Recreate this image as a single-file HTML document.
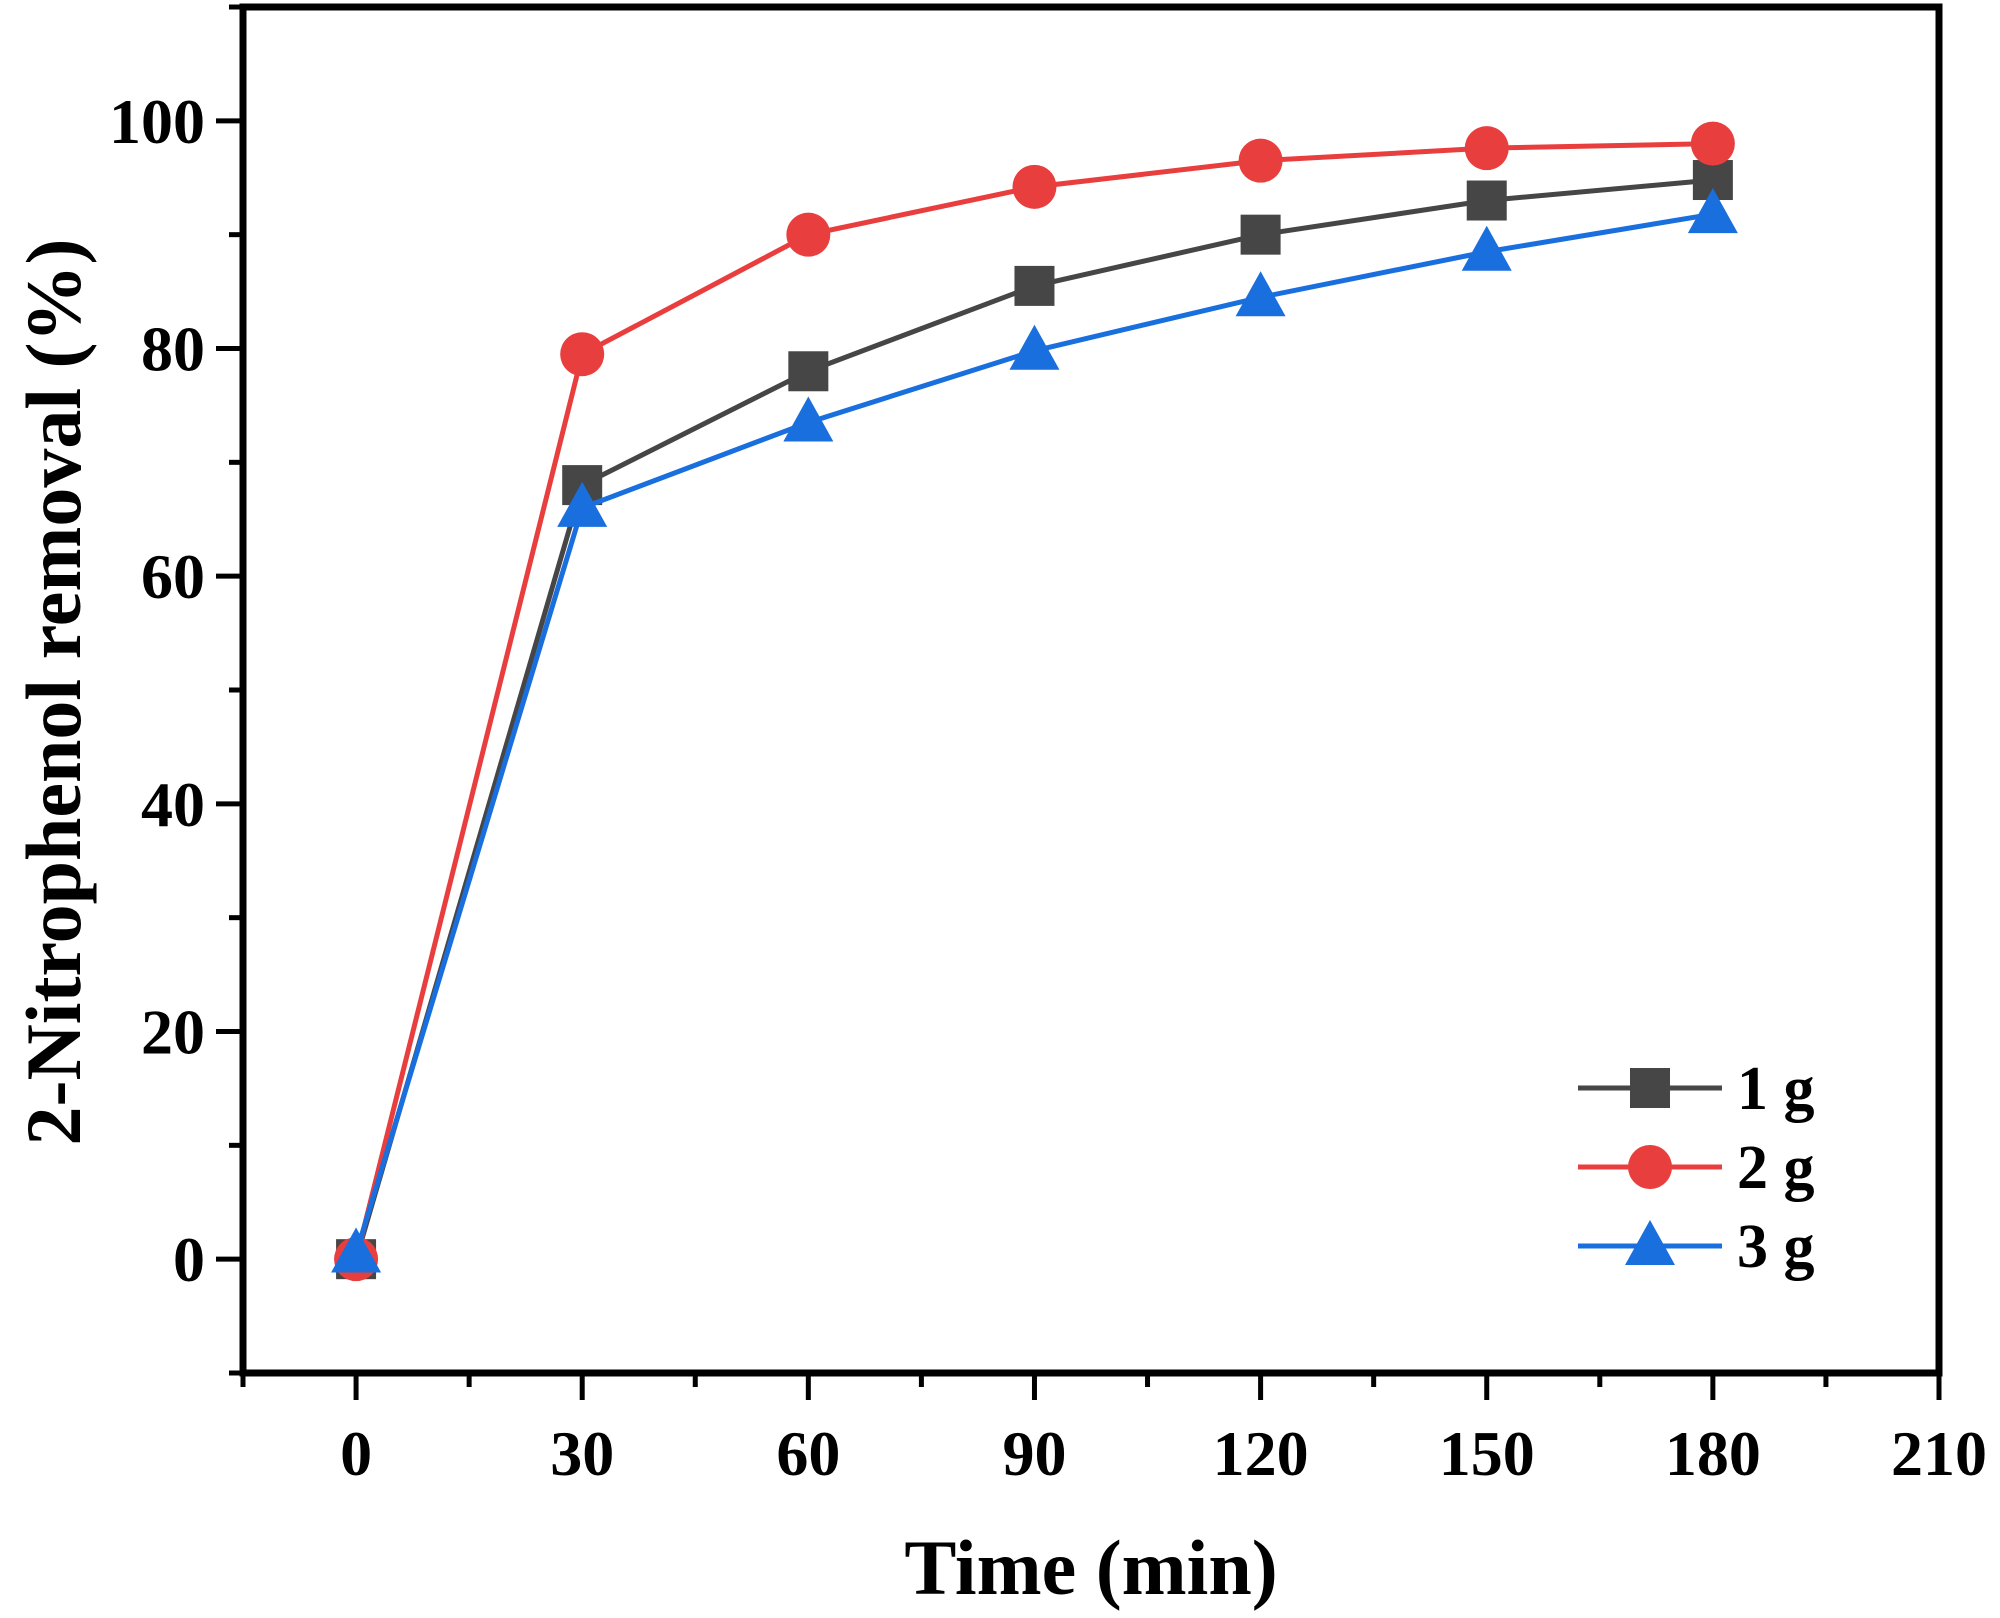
<!DOCTYPE html>
<html><head><meta charset="utf-8"><style>body{margin:0;background:#fff}svg{display:block}text{font-family:"Liberation Serif",serif;font-weight:bold;fill:#000}</style></head>
<body>
<svg id="chart" width="2000" height="1618" viewBox="0 0 2000 1618" xmlns="http://www.w3.org/2000/svg">
<g id="plot"></g>
</svg>
<script>
const times = [0, 30, 60, 90, 120, 150, 180];
const series1g = [0, 68, 78, 85.5, 90, 93, 94.8];
const series2g = [0, 79.5, 90, 94.2, 96.5, 97.6, 98];
const series3g = [0.5, 66, 73.5, 79.8, 84.5, 88.5, 91.8];
const xTicks = [0, 30, 60, 90, 120, 150, 180, 210];
const yTicks = [0, 20, 40, 60, 80, 100];
const seriesNames = ["1 g", "2 g", "3 g"];

const L=243,R=1939,T=7,B=1373,XMIN=-15,XMAX=210,YMIN=-10,YMAX=110;
const sx=v=>L+(v-XMIN)/(XMAX-XMIN)*(R-L);
const sy=v=>B-(v-YMIN)/(YMAX-YMIN)*(B-T);
const NS="http://www.w3.org/2000/svg";
const g=document.getElementById('plot');
function mk(tag,attrs,parent){const e=document.createElementNS(NS,tag);for(const k in attrs)e.setAttribute(k,attrs[k]);(parent||g).appendChild(e);return e;}

const frame=mk('rect',{x:L,y:T,width:R-L,height:B-T,fill:'none',stroke:'#000','stroke-width':7});



for(let v=-15;v<=210;v+=15){
  const major=v%30===0;
  const t=mk('line',{x1:sx(v),x2:sx(v),y1:B,y2:B+(major?27:14),stroke:'#000','stroke-width':5});
  
  
}
xTicks.forEach(v=>{
  const t=mk('text',{x:sx(v),y:1475,'text-anchor':'middle','font-size':64});
  t.textContent=v;
  
  
});
for(let v=-10;v<=110;v+=10){
  const major=v%20===0;
  const t=mk('line',{x1:L,x2:L-(major?27:14),y1:sy(v),y2:sy(v),stroke:'#000','stroke-width':5});
  
  
}
yTicks.forEach(v=>{
  const t=mk('text',{x:205,y:sy(v)+22,'text-anchor':'end','font-size':64});
  t.textContent=v;
  
  
});
const xt=mk('text',{x:sx(97.5),y:1594,'text-anchor':'middle','font-size':78});
xt.textContent='Time (min)';


const yt=mk('text',{x:0,y:0,'text-anchor':'middle','font-size':78,transform:'translate(80,692) rotate(-90)'});
yt.textContent='2-Nitrophenol removal (%)';



const colors=['#464646','#e83e3e','#1a6fdf'];
function marker(type,x,y,c,parent){
  if(type===0) return mk('rect',{x:x-20,y:y-20,width:40,height:40,fill:c},parent);
  if(type===1) return mk('circle',{cx:x,cy:y,r:22,fill:c},parent);
  return mk('polygon',{points:`${x},${y-26} ${x-25},${y+19} ${x+25},${y+19}`,fill:c},parent);
}
[series1g,series2g,series3g].forEach((s,i)=>{
  const sg=mk('g',{});
  
  
  const pl=mk('polyline',{points:s.map((v,j)=>sx(times[j])+','+sy(v)).join(' '),fill:'none',stroke:colors[i],'stroke-width':5},sg);
  
  
  s.forEach((v,j)=>{
    const m=marker(i,sx(times[j]),sy(v),colors[i],sg);
    
    
  });
});
const lg=mk('g',{});


seriesNames.forEach((n,i)=>{
  const y=1088+i*79;
  const e=mk('g',{},lg);
  
  
  mk('line',{x1:1578,x2:1722,y1:y,y2:y,stroke:colors[i],'stroke-width':5},e);
  marker(i,1650,y,colors[i],e);
  const t=mk('text',{x:1737,y:y+21,'font-size':62},e);
  t.textContent=n;
});
</script>
</body></html>
